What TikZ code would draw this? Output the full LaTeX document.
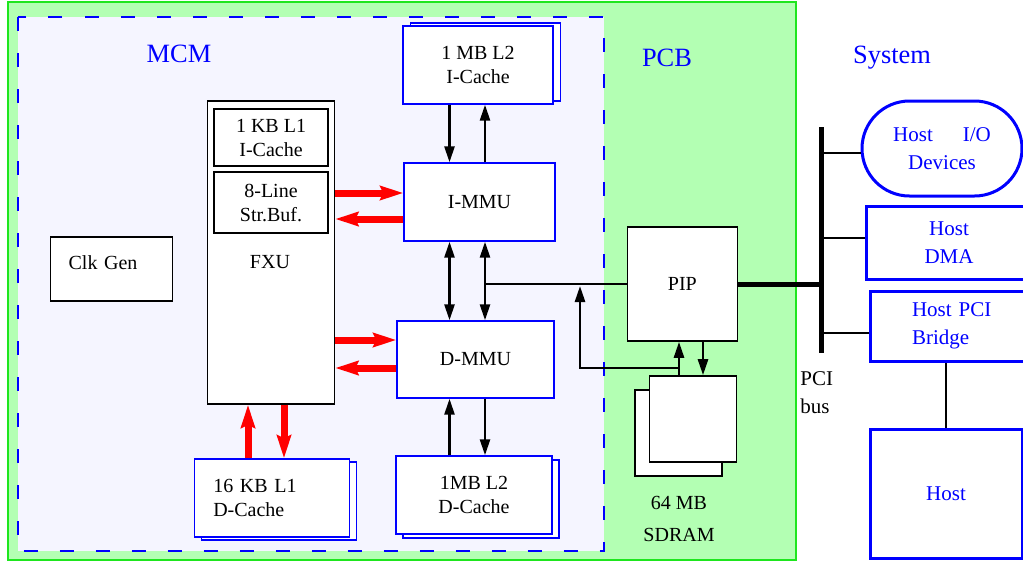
\documentclass[tikz,border=0pt]{standalone}
\usepackage{fontspec}
\setmainfont{Liberation Serif}
\usetikzlibrary{arrows.meta}
\definecolor{myblue}{RGB}{0,0,255}
\definecolor{myred}{RGB}{255,0,0}
\definecolor{pcbgreen}{RGB}{179,255,179}
\definecolor{pcbline}{RGB}{30,230,30}
\definecolor{mcmfill}{RGB}{245,245,255}
\tikzset{
  bxK/.style 2 args={draw=black, fill=white, line width=0.8pt,
              minimum width=#1, minimum height=#2, inner sep=0pt, align=center},
  bxB/.style 2 args={draw=myblue, fill=white, line width=0.7pt,
              minimum width=#1, minimum height=#2, inner sep=0pt, align=center},
  bxH/.style 2 args={draw=myblue, fill=white, line width=1.5pt,
              minimum width=#1, minimum height=#2, inner sep=0pt, align=center,
              text=myblue, font=\rmfamily\fontsize{10.5}{14}\selectfont},
  lbl/.style={text=myblue, font=\rmfamily\fontsize{13.2}{16}\selectfont},
  arr/.style={-{Triangle[length=8pt,width=5pt]}, line width=1.3pt},
  darr/.style={{Triangle[length=8pt,width=5pt]}-{Triangle[length=8pt,width=5pt]},
              line width=1.3pt},
  rarr/.style={-{Stealth[length=11.5pt,width=7pt,inset=1.5pt]}, line width=3.5pt, draw=myred},
  wire/.style={line width=1.3pt},
  bus/.style={line width=2.5pt},
}
\begin{document}
\begin{tikzpicture}[x=0.5pt, y=-0.5pt, font=\rmfamily\fontsize{10}{12}\selectfont]
  \useasboundingbox (0,0) rectangle (1023,563);

  % ── PCB and MCM areas ──────────────────────────────────
  \draw[draw=pcbline, fill=pcbgreen, line width=0.8pt] (8,2) rectangle (796,560);
  \draw[draw=myblue, fill=mcmfill, line width=1pt, dash pattern=on 7pt off 11pt]
    (17.5,17) rectangle (604,551);
  \node[lbl] (mcmlbl) at (179,54) {MCM};
  \node[lbl] (pcblbl) at (667,58) {PCB};
  \node[lbl] (syslbl) at (892,58) {System};

  % ── FXU, its L1 I-cache and stream buffer ─────────────
  \node[bxK={63.5pt}{151.5pt}] (fxu) at (271,252.5) {};
  \node (fxutxt) at (270,262) {FXU};
  \node[bxK={57pt}{28.5pt}] (il1) at (271,137.5) {1 KB L1\\I-Cache};
  \node[bxK={57pt}{30.5pt}] (sbuf) at (271,202.5) {8-Line\\Str.Buf.};
  \node[bxK={61pt}{32pt}, align=left, text width=43pt, inner xsep=9pt,
        text height=7pt, text depth=6.5pt] (clk) at (111.6,269) {Clk Gen};

  % ── MMUs and caches ────────────────────────────────────
  \node[bxB={75pt}{39pt}] (il2b) at (485.5,62) {};
  \node[bxB={75pt}{39pt}] (il2) at (478,65) {1 MB L2\\I-Cache};
  \node[bxB={75.5pt}{39pt}] (immu) at (479.5,202) {I-MMU};
  \node[bxB={78.5pt}{38.5pt}] (dmmu) at (475.5,359.5) {D-MMU};
  \node[bxB={77.75pt}{39pt}] (dl1b) at (279,501) {};
  \node[bxB={77.75pt}{39pt}, align=left, text width=58.75pt, inner xsep=9.5pt]
    (dl1) at (272,498) {16 KB L1\\D-Cache};
  \node[bxB={78pt}{39pt}] (dl2b) at (481,499) {};
  \node[bxB={78pt}{39pt}] (dl2) at (474,495) {1MB L2\\D-Cache};

  % ── PIP and SDRAM on the PCB ───────────────────────────
  \node[bxK={55pt}{57pt}] (pip) at (682.4,284) {PIP};
  \node[bxK={43.5pt}{43pt}] (sdramb) at (678.5,433) {};
  \node[bxK={43.5pt}{43pt}] (sdram) at (693,419) {};
  \node[align=center, font=\rmfamily\fontsize{10}{16}\selectfont] (sdramlbl) at (679,519)
    {64 MB\\SDRAM};

  % ── host system ────────────────────────────────────────
  \coordinate (bustop) at (821,127);
  \coordinate (busbot) at (821,353);
  \node[anchor=west, align=left, inner sep=0pt, font=\rmfamily\fontsize{10.5}{14}\selectfont]
    (buslbl) at (800,393) {PCI\\bus};
  \node[bxH={80pt}{47.5pt}, rounded corners=23.75pt] (hio) at (942,148.5)
    {Host\hspace{15pt}I/O\\Devices};
  \node[bxH={83pt}{36.5pt}] (hdma) at (949,242.5) {Host\\DMA};
  \node[bxH={82.5pt}{35pt}, align=left, text width=40.5pt, inner xsep=21pt]
    (hpci) at (952.5,326) {Host PCI\\Bridge};
  \node[bxH={76pt}{64.5pt}] (host) at (946,493.5) {Host};

  % ── black data paths ───────────────────────────────────
  \coordinate (cA) at (449.5,0);
  \coordinate (cB) at (485,0);
  \draw[arr] (cA |- il2.south) -- (cA |- immu.north);
  \draw[arr] (cB |- immu.north) -- (cB |- il2.south);
  \draw[darr] (cA |- immu.south) -- (cA |- dmmu.north);
  \draw[darr] (cB |- immu.south) -- (cB |- dmmu.north);
  \draw[arr] (cA |- dl2.north) -- (cA |- dmmu.south);
  \draw[arr] (cB |- dmmu.south) -- (cB |- dl2.north);
  \draw[wire] (pip.west) -- (pip.west -| cB);

  \coordinate (cS) at (679,0);
  \coordinate (cT) at (703,0);
  \coordinate (tap) at (580,368);
  \draw[arr] (cS |- sdram.north) -- (cS |- pip.south);
  \draw[arr] (cT |- pip.south) -- (cT |- sdram.north);
  \draw[arr, shorten >=1pt] (tap -| cS) -- (tap) -- (tap |- pip.west);

  % ── red FXU paths ──────────────────────────────────────
  \coordinate (r1) at (0,193);
  \coordinate (r2) at (0,219);
  \coordinate (r3) at (0,340);
  \coordinate (r4) at (0,368);
  \draw[rarr] (fxu.east |- r1) -- (immu.west |- r1);
  \draw[rarr] (immu.west |- r2) -- (fxu.east |- r2);
  \draw[rarr] (fxu.east |- r3) -- (dmmu.west |- r3);
  \draw[rarr] (dmmu.west |- r4) -- (fxu.east |- r4);
  \coordinate (cU) at (248,0);
  \coordinate (cD) at (284,0);
  \draw[rarr] (cU |- dl1.north) -- (cU |- fxu.south);
  \draw[rarr] (cD |- fxu.south) -- (cD |- dl1.north);

  % ── PCI bus ────────────────────────────────────────────
  \draw[bus] (bustop) -- (busbot);
  \draw[bus] (pip.east) -- (pip.east -| bustop);
  \coordinate (b1) at (821,153);
  \coordinate (b2) at (821,238);
  \coordinate (b3) at (821,333);
  \draw[wire] (b1) -- (b1 -| hio.west);
  \draw[wire] (b2) -- (b2 -| hdma.west);
  \draw[wire] (b3) -- (b3 -| hpci.west);
  \draw[wire] (host.north) -- (host.north |- hpci.south);
\end{tikzpicture}
\end{document}
